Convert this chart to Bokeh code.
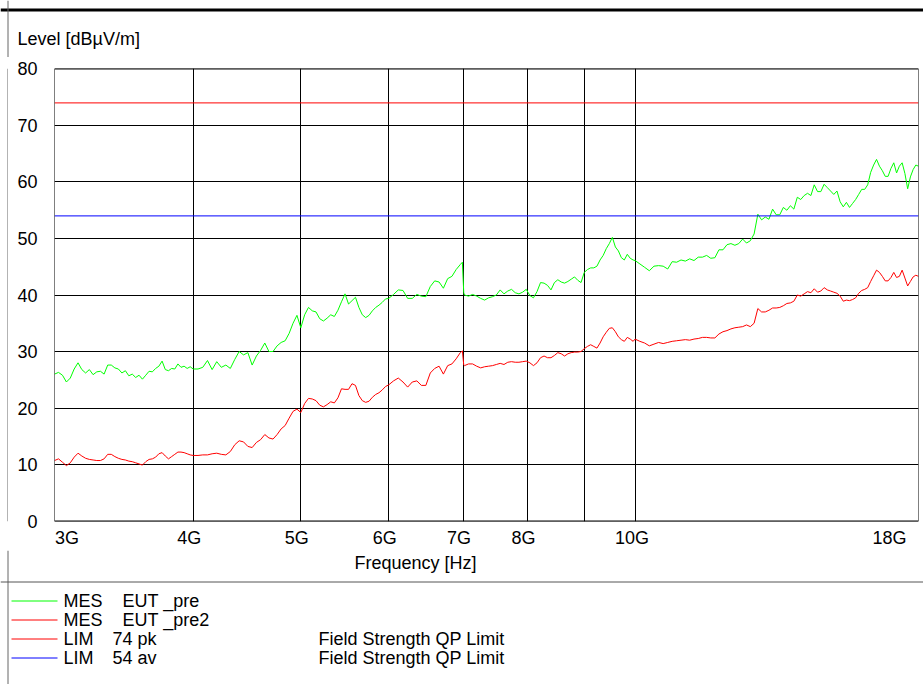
import math
from bokeh.plotting import figure
from bokeh.layouts import column, row
from bokeh.models import (Range1d, FixedTicker, Label, Span, CustomJSTickFormatter)
from bokeh.embed import file_html
from bokeh.resources import INLINE

# ---------------- data ----------------
FREQ_GHZ = [
    3.000, 3.025, 3.050, 3.075, 3.100, 3.125, 3.150, 3.175, 3.200, 3.225,
    3.250, 3.275, 3.300, 3.325, 3.350, 3.375, 3.400, 3.425, 3.450, 3.475,
    3.500, 3.525, 3.550, 3.575, 3.600, 3.625, 3.650, 3.675, 3.700, 3.725,
    3.750, 3.775, 3.800, 3.825, 3.850, 3.875, 3.900, 3.925, 3.950, 3.975, 4.000,
    4.04, 4.08, 4.12, 4.16, 4.20, 4.24, 4.28, 4.32, 4.36, 4.40,
    4.44, 4.48, 4.52, 4.56, 4.60, 4.64, 4.68, 4.72, 4.76, 4.80, 4.84,
    4.88, 4.92, 4.96, 5.00, 5.04, 5.08, 5.12, 5.16, 5.20, 5.24,
    5.28, 5.32, 5.36, 5.40, 5.44, 5.48, 5.52, 5.56, 5.60, 5.64,
    5.68, 5.72, 5.76, 5.80, 5.84, 5.88, 5.92, 5.96, 6.00,
    6.06, 6.12, 6.18, 6.24, 6.30, 6.36, 6.42, 6.48, 6.54, 6.60,
    6.66, 6.72, 6.78, 6.84, 6.90, 6.96, 6.99, 7.01,
    7.02, 7.08, 7.14, 7.20, 7.26, 7.32, 7.38, 7.44, 7.50, 7.56,
    7.62, 7.68, 7.74, 7.80, 7.86, 7.92, 7.98, 8.04, 8.10, 8.16,
    8.22, 8.28, 8.34, 8.40, 8.46, 8.52, 8.58, 8.64, 8.70, 8.76,
    8.82, 8.88, 8.94, 9.00, 9.06, 9.12, 9.18, 9.24, 9.30, 9.36,
    9.42, 9.48, 9.54, 9.60, 9.66, 9.72, 9.78, 9.84, 9.90, 9.96,
    10.0, 10.1, 10.2, 10.3, 10.4, 10.5, 10.6, 10.7, 10.8, 10.9,
    11.0, 11.1, 11.2, 11.3, 11.4, 11.5, 11.6, 11.7, 11.8, 11.9,
    12.0, 12.1, 12.2, 12.3, 12.4, 12.5, 12.6, 12.7, 12.8, 12.9,
    13.0, 13.1, 13.2, 13.3, 13.4, 13.5, 13.6, 13.7, 13.8, 13.9,
    14.0, 14.1, 14.2, 14.3, 14.4, 14.5, 14.6, 14.7, 14.8, 14.9,
    15.0, 15.1, 15.2, 15.3, 15.4, 15.5, 15.6, 15.7, 15.8, 15.9,
    16.0, 16.1, 16.2, 16.3, 16.4, 16.5, 16.6, 16.7, 16.8, 16.9,
    17.0, 17.1, 17.2, 17.3, 17.4, 17.5, 17.6, 17.7, 17.8, 17.9, 18.0,
]

LEVEL_PRE = [  # MES EUT _pre (green)
    26.0, 26.3, 25.8, 24.6, 25.3, 26.9, 28.0, 26.8, 26.2, 26.8,
    25.9, 26.4, 26.5, 26.0, 27.6, 27.6, 27.1, 26.9, 26.2, 26.6,
    25.7, 26.0, 25.4, 25.8, 25.1, 25.8, 26.5, 26.4, 27.0, 27.4,
    28.3, 26.8, 26.6, 27.0, 26.9, 27.8, 27.2, 27.4, 27.0, 27.3, 26.9,
    26.9, 27.2, 28.4, 26.8, 28.2, 27.2, 27.6, 27.0, 28.6, 30.0,
    29.4, 29.8, 27.6, 29.2, 30.2, 31.5, 30.0, 30.0, 31.0, 31.6, 31.9,
    33.2, 35.0, 36.4, 34.2, 36.5, 37.8, 37.2, 37.0, 35.8, 35.4,
    35.9, 36.5, 36.2, 37.3, 38.8, 40.2, 38.4, 39.0, 39.6, 37.8,
    36.5, 36.0, 36.4, 37.2, 37.8, 38.2, 38.7, 39.3, 39.4,
    40.1, 40.9, 40.8, 39.4, 39.4, 40.1, 39.8, 39.7, 41.5, 42.5,
    42.3, 41.2, 42.9, 43.3, 44.5, 45.4, 45.8, 40.4,
    40.0, 39.8, 40.1, 39.8, 39.4, 39.1, 39.5, 39.7, 40.0, 40.9,
    40.2, 40.7, 41.0, 40.4, 40.2, 40.5, 41.0, 39.9, 39.5, 40.6,
    42.2, 42.1, 41.7, 40.9, 42.2, 42.7, 42.3, 42.1, 42.4, 42.8,
    43.2, 42.6, 42.2, 44.0, 44.5, 44.8, 44.8, 45.1, 46.2, 47.0,
    48.2, 49.1, 50.2, 48.5, 47.8, 46.6, 46.2, 47.2, 46.5, 46.2,
    46.1, 45.5, 44.9, 44.3, 45.1, 45.2, 45.1, 44.6, 45.9, 45.8,
    46.2, 46.0, 46.4, 46.1, 46.7, 46.7, 47.0, 46.5, 46.6, 48.0,
    48.0, 48.9, 49.1, 48.8, 49.1, 49.9, 49.2, 49.6, 50.8, 54.3,
    53.3, 53.8, 53.4, 55.2, 54.2, 54.2, 55.5, 55.0, 55.8, 55.2,
    57.3, 56.9, 57.6, 58.0, 57.6, 59.5, 58.3, 58.3, 59.6, 59.0,
    58.4, 57.8, 58.4, 56.5, 55.6, 56.4, 55.5, 56.2, 56.9, 57.8,
    58.7, 58.7, 59.5, 61.7, 63.0, 64.0, 62.8, 62.0, 61.0, 61.0,
    62.4, 63.4, 61.6, 62.8, 63.4, 61.5, 58.8, 60.9, 62.2, 63.0, 62.8,
]

LEVEL_PRE2 = [  # MES EUT _pre2 (red)
    10.7, 11.0, 10.4, 9.8, 10.3, 11.3, 12.0, 11.5, 11.1, 10.9,
    10.8, 10.7, 10.7, 11.0, 11.8, 11.8, 11.4, 11.1, 10.9, 10.8,
    10.6, 10.5, 10.3, 10.1, 9.9, 10.5, 10.9, 11.0, 11.3, 11.9,
    12.1, 11.5, 11.0, 11.4, 11.8, 12.2, 12.2, 12.1, 11.9, 11.7, 11.6,
    11.6, 11.7, 11.7, 11.9, 12.0, 11.8, 11.7, 12.3, 13.5, 14.2,
    14.0, 13.2, 13.0, 13.9, 14.4, 15.3, 14.7, 14.5, 15.3, 16.3, 16.9,
    18.2, 19.4, 19.8, 19.2, 20.8, 21.7, 21.6, 21.3, 20.5, 20.2,
    20.6, 21.1, 20.9, 21.8, 23.4, 23.3, 23.3, 24.3, 24.0, 22.2,
    21.3, 21.0, 21.2, 21.9, 22.4, 22.7, 23.2, 23.8, 24.1,
    24.8, 25.3, 24.6, 23.7, 24.6, 24.8, 24.0, 24.0, 26.2, 27.0,
    27.4, 26.0, 27.5, 27.8, 28.7, 29.8, 30.1, 27.6,
    27.5, 27.8, 27.8, 27.4, 27.1, 27.3, 27.4, 27.5, 27.7, 27.9,
    27.7, 28.1, 28.2, 28.1, 28.1, 28.2, 28.3, 28.0, 27.5, 28.0,
    28.9, 29.2, 28.9, 28.9, 29.3, 29.8, 29.6, 29.2, 29.6, 29.8,
    29.9, 29.9, 30.0, 30.5, 30.9, 31.2, 30.9, 30.6, 31.5, 32.6,
    33.4, 34.1, 34.2, 33.5, 32.6, 32.1, 31.8, 32.5, 32.2, 31.8,
    32.2, 31.8, 31.5, 31.0, 31.3, 31.6, 31.4, 31.6, 31.8, 31.9,
    32.0, 32.1, 32.0, 32.2, 32.3, 32.5, 32.5, 32.4, 32.4, 33.1,
    33.5, 33.7, 34.0, 34.2, 34.3, 34.4, 34.7, 34.4, 35.0, 37.6,
    37.0, 37.0, 37.3, 37.7, 37.7, 37.8, 38.1, 38.5, 38.6, 38.9,
    40.0, 39.8, 40.2, 40.6, 40.4, 41.1, 40.5, 40.7, 41.3, 40.9,
    40.7, 40.5, 40.3, 39.8, 38.9, 39.1, 39.0, 39.2, 39.5, 40.3,
    40.8, 41.0, 41.3, 42.4, 43.4, 44.4, 44.0, 43.3, 42.5, 42.5,
    43.1, 44.0, 43.1, 43.3, 44.4, 43.0, 41.6, 42.4, 43.2, 43.5, 43.3,
]

LIMIT_FREQ_GHZ = [3.0, 18.0]
LIMIT_PK = [74.0, 74.0]   # LIM 74 pk
LIMIT_AV = [54.0, 54.0]   # LIM 54 av

X_TICKS = [3.0, 4.0, 5.0, 6.0, 7.0, 8.0, 9.0, 10.0, 18.0]
X_TICK_LABELS = ["3G", "4G", "5G", "6G", "7G", "8G", "", "10G", "18G"]
Y_TICKS = [0, 10, 20, 30, 40, 50, 60, 70, 80]

LEGEND_KIND = ["MES", "MES", "LIM", "LIM"]
LEGEND_NAME = ["EUT _pre", "EUT _pre2", "74 pk", "54 av"]
LEGEND_DESC = ["", "", "Field Strength QP Limit", "Field Strength QP Limit"]
LEGEND_COLORS = ["#00ff00", "#ff0000", "#ff0000", "#0000ff"]

# ---------------- layout (page pixels) ----------------
FONT = "Liberation Sans"
FS = "18px"
WIDTH, HEIGHT = 923, 684
HEAD_H = 57            # strip above the chart
CHART_BOTTOM = 550     # page y where the chart figure ends
STRIP_W = 8            # strip left of the chart (border line)
FL, FR, FT, FB = 54, 918, 68, 522   # plot frame box (page px)
X0, X1, Y0, Y1 = 3.0, 18.0, 0.0, 80.0
# half-pixel margin inside the frame so that 0 and 80 sit on pixel centres
Y_PAD = 0.5 * (Y1 - Y0) / (FB - FT - 1)
# label shifts (px) that keep the end labels inside, as in the reference
LABEL_SHIFT = [12.5, -4, -4, -4, -4, -4, 0, -3, -29]

BORDER = "#666666"


def plain_fig(w, h, top, bottom):
    f = figure(width=w, height=h, x_range=Range1d(0, w), y_range=Range1d(bottom, top),
               output_backend="svg", toolbar_location=None,
               x_axis_location=None, y_axis_location=None, min_border=0)
    f.grid.visible = False
    f.outline_line_color = None
    f.background_fill_color = "white"
    f.border_fill_color = "white"
    return f


def lab(fig, text, x, y, align="left", baseline="middle"):
    fig.add_layout(Label(x=x, y=y, text=text, text_font=FONT, text_font_size=FS,
                         text_color="black", text_align=align, text_baseline=baseline))


# ---- head: top bar, left border, y-axis title
head = plain_fig(WIDTH, HEAD_H, 0, HEAD_H)
head.add_layout(Span(location=9.5, dimension="width", line_color="black", line_width=3))
head.add_layout(Span(location=7.5, dimension="height", line_color=BORDER, line_width=1))
lab(head, "Level [dB\u00b5V/m]", 17, 38)

# ---- left strip with the border line
strip = plain_fig(STRIP_W, CHART_BOTTOM - HEAD_H, HEAD_H, CHART_BOTTOM)
strip.add_layout(Span(location=7.5, dimension="height", line_color=BORDER, line_width=1))

# ---- chart
CW = WIDTH - STRIP_W
CH = CHART_BOTTOM - HEAD_H
p = figure(width=CW, height=CH, x_axis_type="log",
           x_range=Range1d(X0, X1), y_range=Range1d(Y0 - Y_PAD, Y1 + Y_PAD),
           output_backend="svg", toolbar_location=None,
           min_border_left=FL - STRIP_W, min_border_right=WIDTH - FR,
           min_border_top=FT - HEAD_H, min_border_bottom=CHART_BOTTOM - FB)
p.background_fill_color = "white"
p.border_fill_color = "white"
p.outline_line_color = None

span_px = FR - FL
label_pos = [t * (X1 / X0) ** (s / span_px) for t, s in zip(X_TICKS, LABEL_SHIFT)]
p.xaxis.ticker = FixedTicker(ticks=label_pos)
p.xaxis.formatter = CustomJSTickFormatter(args=dict(labels=X_TICK_LABELS),
                                          code="return labels[index];")
p.yaxis.ticker = FixedTicker(ticks=Y_TICKS)
p.xgrid.ticker = FixedTicker(ticks=X_TICKS)
p.ygrid.ticker = FixedTicker(ticks=Y_TICKS)
p.grid.grid_line_color = "black"
p.grid.grid_line_width = 1
p.grid.grid_line_alpha = 1.0

for ax in (p.xaxis[0], p.yaxis[0]):
    ax.axis_line_color = None
    ax.major_tick_line_color = None
    ax.minor_tick_line_color = None
    ax.major_tick_out = 0
    ax.major_tick_in = 0
    ax.minor_tick_out = 0
    ax.minor_tick_in = 0
    ax.major_label_text_font = FONT
    ax.major_label_text_font_size = FS
    ax.major_label_text_color = "black"
p.xaxis.major_label_standoff = 6
p.yaxis.major_label_standoff = 17

p.line(FREQ_GHZ, LEVEL_PRE, line_color=LEGEND_COLORS[0], line_width=1)
p.line(FREQ_GHZ, LEVEL_PRE2, line_color=LEGEND_COLORS[1], line_width=1)
p.line(LIMIT_FREQ_GHZ, LIMIT_PK, line_color=LEGEND_COLORS[2], line_width=1)
p.line(LIMIT_FREQ_GHZ, LIMIT_AV, line_color=LEGEND_COLORS[3], line_width=1)
# frame border drawn on the 0 / 80 level and the 3G / 18G edges
p.add_layout(Span(location=Y0, dimension="width", line_color="black", line_width=1))
p.add_layout(Span(location=Y1, dimension="width", line_color="black", line_width=1))
p.add_layout(Span(location=X0, dimension="height", line_color="black", line_width=1))
p.add_layout(Span(location=X1, dimension="height", line_color="black", line_width=1))

# ---- bottom: x-axis title, separator, legend block
BOT_H = HEIGHT - CHART_BOTTOM
bot = plain_fig(WIDTH, BOT_H, CHART_BOTTOM, HEIGHT)
bot.add_layout(Span(location=7.5, dimension="height", line_color=BORDER, line_width=1))
bot.add_layout(Span(location=581.5, dimension="width", line_color="#555555", line_width=1))
lab(bot, "Frequency [Hz]", 415, 562, align="center")

ROW0, PITCH = 600, 19      # first legend row centre and row pitch (page px)
KEY_X0, KEY_X1 = 11, 57    # legend key line extent
COL_KIND, COL_NAME_MES, COL_NAME_LIM, COL_DESC = 63, 122, 112, 318
rows_y = [ROW0 + i * PITCH for i in range(len(LEGEND_KIND))]
keys_y = [y + 0.5 for y in rows_y]   # centre the 1px key lines on a pixel row
bot.segment(x0=[KEY_X0] * len(keys_y), y0=keys_y, x1=[KEY_X1] * len(keys_y), y1=keys_y,
            line_color=LEGEND_COLORS, line_width=1)
for i, ry in enumerate(rows_y):
    lab(bot, LEGEND_KIND[i], COL_KIND, ry)
    lab(bot, LEGEND_NAME[i], COL_NAME_MES if LEGEND_KIND[i] == "MES" else COL_NAME_LIM, ry)
    if LEGEND_DESC[i]:
        lab(bot, LEGEND_DESC[i], COL_DESC, ry)

layout = column(head, row(strip, p, spacing=0), bot, spacing=0)

with open("out.html", "w") as f:
    f.write(file_html(layout, INLINE))
